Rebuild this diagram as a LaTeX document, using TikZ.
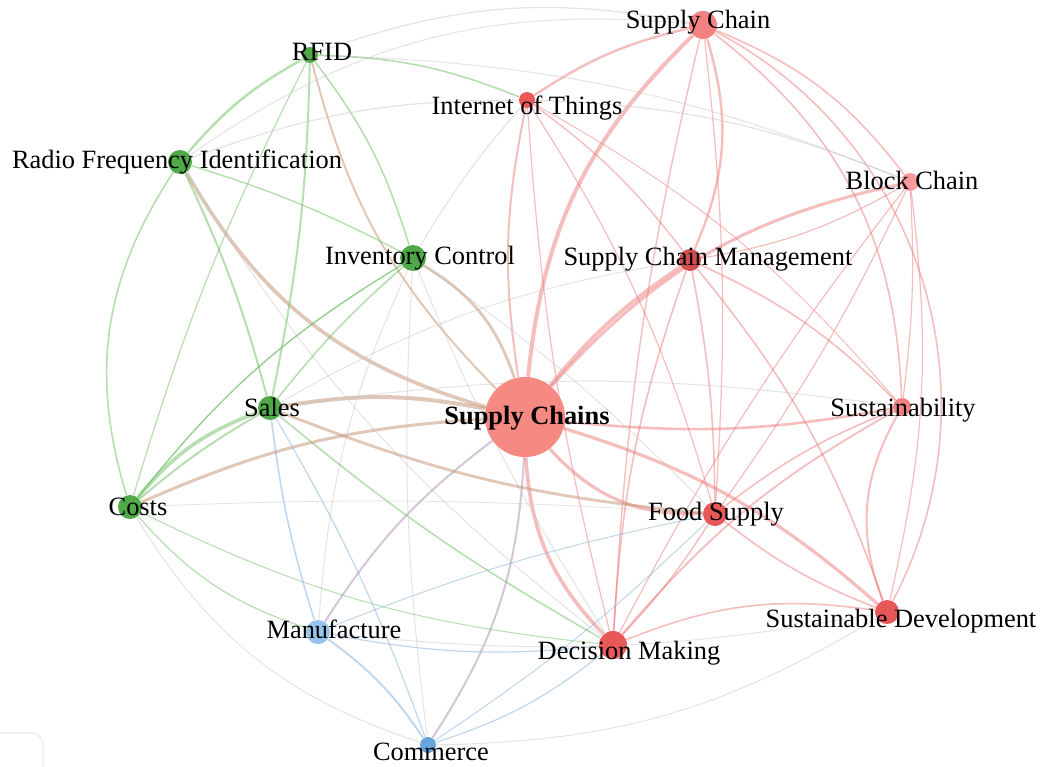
\documentclass[tikz,border=0pt]{standalone}
\usepackage{fontspec}
\setmainfont{Liberation Serif}
\usetikzlibrary{backgrounds}
\definecolor{redN}{RGB}{232,88,88}
\definecolor{redL}{RGB}{242,130,130}
\definecolor{redS}{RGB}{246,138,130}
\definecolor{redE}{RGB}{236,110,110}
\definecolor{greenN}{RGB}{80,168,72}
\definecolor{greenE}{RGB}{110,190,100}
\definecolor{blueN}{RGB}{150,195,235}
\definecolor{blueD}{RGB}{105,165,220}
\definecolor{blueE}{RGB}{130,175,220}
\definecolor{brownE}{RGB}{195,145,115}
\definecolor{purpE}{RGB}{170,140,180}
\definecolor{grayE}{RGB}{195,195,195}
\tikzset{
  nd/.style={circle, inner sep=0pt, minimum size=#1},
  lab/.style={font=\fontsize{13.2}{15}\selectfont, text=black, inner sep=0pt, text height=0.68em, text depth=0.2em, yshift=-2pt},
  er/.style={draw=redE, line width=#1, opacity=.45}, er/.default=0.5pt,
  eg/.style={draw=greenE, line width=#1, opacity=.5}, eg/.default=0.5pt,
  eb/.style={draw=blueE, line width=#1, opacity=.5}, eb/.default=0.5pt,
  ebr/.style={draw=brownE, line width=#1, opacity=.5}, ebr/.default=0.5pt,
  ep/.style={draw=purpE, line width=#1, opacity=.5}, ep/.default=0.5pt,
  egr/.style={draw=grayE, line width=#1, opacity=.45}, egr/.default=0.5pt,
}
\begin{document}
\begin{tikzpicture}[x=0.5pt,y=-0.5pt]
\useasboundingbox (0,0) rectangle (1043,766);
% node circles
\node[nd=40pt, fill=redS] (SCs) at (525,417) {};
\node[nd=14pt, fill=redL] (SC) at (703,25) {};
\node[nd=8pt, fill=redN] (IoT) at (527,100) {};
\node[nd=8pt, fill=greenN] (RFID) at (310,55) {};
\node[nd=12pt, fill=greenN] (RFI) at (180,162) {};
\node[nd=9pt, fill=redL!80!white] (BC) at (910,182) {};
\node[nd=13pt, fill=greenN] (IC) at (413,258) {};
\node[nd=11pt, fill=redN!90!black] (SCM) at (690,260) {};
\node[nd=12pt, fill=greenN] (Sales) at (270,408) {};
\node[nd=9pt, fill=redL] (Sust) at (902,407) {};
\node[nd=12pt, fill=greenN] (Costs) at (130,507) {};
\node[nd=12pt, fill=redN] (FS) at (715,514) {};
\node[nd=12pt, fill=redN] (SD) at (887,612) {};
\node[nd=12pt, fill=blueN] (Man) at (318,632) {};
\node[nd=14pt, fill=redN] (DM) at (613,645) {};
\node[nd=8pt, fill=blueD] (Com) at (428,745) {};
\begin{scope}[on background layer]
\fill[white] (0,0) rectangle (1043,766);
% faint frame fragment
\draw[gray!12, line width=1pt, rounded corners=6pt] (0,733) -- (43,733) -- (43,770);
% heavy edges of Supply Chains
\draw[er=2pt] (SCs) to[bend left=20] (SC);
\draw[er=1.8pt] (SCs) to[bend left=8] (SCM);
\draw[er=1.6pt] (SCs) to[bend right=25] (FS);
\draw[er=1.8pt] (SCs) to[bend right=20] (DM);
\draw[er=1.6pt] (SCs) to[bend left=12] (SD);
\draw[er=1.3pt] (SCs) to[bend right=8] (Sust);
\draw[er=1pt] (SCs) to[bend left=10] (IoT);
\draw[er=1.5pt] (SCs) to[bend left=18] (BC);
\draw[ebr=2pt] (Sales) to[bend left=10] (SCs);
\draw[ebr=1.8pt] (RFI) to[bend right=22] (SCs);
\draw[ebr=1.4pt] (IC) to[bend left=20] (SCs);
\draw[ebr=1.5pt] (Costs) to[bend left=10] (SCs);
\draw[ep=1pt] (Man) to[bend left=10] (SCs);
\draw[ep=1pt] (Com) to[bend right=15] (SCs);
\draw[ebr=1pt] (RFID) to[bend right=15] (SCs);
% red cluster
\draw[er=1.2pt] (SC) to[bend left=20] (SCM);
\draw[er=1.2pt] (SC) to[bend right=10] (IoT);
\draw[er=0.8pt] (SC) to[bend left=15] (BC);
\draw[er=0.8pt] (SC) to[bend left=25] (Sust);
\draw[er=0.8pt] (SC) to[bend left=45] (SD);
\draw[er=0.6pt] (SC) to[bend left=5] (FS);
\draw[er=0.7pt] (SC) to[bend right=5] (DM);
\draw[er=0.8pt] (SCM) to[bend left=5] (FS);
\draw[er=0.8pt] (SCM) to[bend right=8] (DM);
\draw[er=0.8pt] (SCM) to[bend left=10] (Sust);
\draw[er=0.8pt] (SCM) to[bend left=10] (SD);
\draw[er=0.7pt] (SCM) to[bend right=8] (IoT);
\draw[er=0.6pt] (SCM) to[bend right=10] (BC);
\draw[er=0.6pt] (BC) to[bend left=5] (Sust);
\draw[er=0.6pt] (BC) to[bend left=5] (FS);
\draw[er=0.6pt] (BC) to[bend left=10] (SD);
\draw[er=0.6pt] (BC) to[bend right=5] (DM);
\draw[egr=0.6pt] (BC) to[bend right=10] (IoT);
\draw[er=1pt] (Sust) to[bend right=25] (SD);
\draw[er=0.8pt] (Sust) to[bend right=8] (FS);
\draw[er=0.9pt] (Sust) to[bend right=10] (DM);
\draw[er=0.7pt] (FS) to[bend left=5] (DM);
\draw[er=0.8pt] (FS) to[bend right=8] (SD);
\draw[er=0.8pt] (DM) to[bend left=15] (SD);
\draw[er=0.6pt] (IoT) to[bend left=8] (FS);
\draw[er=0.6pt] (IoT) to[bend right=5] (DM);
\draw[er=0.5pt] (IoT) to[bend left=10] (Sust);
% green cluster
\draw[eg=1.2pt] (RFID) to[bend right=10] (RFI);
\draw[eg=1pt] (RFID) to[bend left=5] (Sales);
\draw[eg=0.8pt] (RFID) to[bend left=10] (IC);
\draw[eg=0.8pt] (RFID) to[bend left=10] (IoT);
\draw[eg=0.6pt] (RFID) to[bend right=5] (Costs);
\draw[egr=0.6pt] (RFID) to[bend left=15] (SC);
\draw[egr=0.5pt] (RFID) to[bend left=10] (BC);
\draw[eg=1pt] (RFI) to[bend left=5] (Sales);
\draw[eg=0.8pt] (RFI) to[bend right=25] (Costs);
\draw[eg=0.7pt] (RFI) to[bend left=5] (IC);
\draw[egr=0.6pt] (RFI) to[bend left=10] (IoT);
\draw[egr=0.5pt] (RFI) to[bend left=20] (SC);
\draw[egr=0.5pt] (RFI) to[bend right=10] (DM);
\draw[eg=0.8pt] (IC) to[bend right=5] (Sales);
\draw[eg=0.6pt] (IC) to[bend right=10] (Costs);
\draw[egr=0.6pt] (IC) to[bend left=5] (IoT);
\draw[egr=0.5pt] (IC) to[bend left=5] (FS);
\draw[egr=0.5pt] (IC) to[bend right=5] (DM);
\draw[egr=0.5pt] (IC) to[bend right=10] (Man);
\draw[eg=1.8pt] (Costs) to[bend left=15] (Sales);
\draw[eg=1pt] (Costs) to[bend left=5] (Sales);
\draw[eg=0.6pt] (Costs) to[bend right=15] (Man);
\draw[egr=0.5pt] (Costs) to[bend right=20] (Com);
\draw[eg=0.5pt] (Costs) to[bend right=10] (DM);
\draw[egr=0.4pt] (Costs) to[bend left=3] (FS);
\draw[eg=0.6pt] (Costs) to[bend left=10] (IC);
\draw[eb=0.8pt] (Sales) to[bend right=5] (Man);
\draw[eg=0.8pt] (Sales) to[bend right=5] (DM);
\draw[ebr=1.4pt] (Sales) to[bend right=8] (FS);
\draw[eb=0.6pt] (Sales) to[bend left=5] (Com);
\draw[egr=0.5pt] (Sales) to[bend left=8] (Sust);
\draw[egr=0.5pt] (Sales) to[bend left=10] (SCM);
% blue cluster
\draw[eb=1pt] (Man) to[bend left=10] (Com);
\draw[eb=0.6pt] (Man) to[bend right=8] (DM);
\draw[eb=0.5pt] (Man) to[bend left=5] (FS);
\draw[egr=0.5pt] (Man) to[bend right=8] (SD);
\draw[eb=0.6pt] (Com) to[bend right=10] (DM);
\draw[egr=0.5pt] (Com) to[bend right=15] (SD);
\draw[eb=0.5pt] (Com) to[bend right=5] (FS);
\draw[egr=0.5pt] (Com) to[bend left=5] (IC);
\end{scope}
% labels
\node[lab] (lSC) at (698,20) {Supply Chain};
\node[lab] (lIoT) at (527,106) {Internet of Things};
\node[lab] (lRFID) at (322,52) {RFID};
\node[lab] (lRFI) at (177,160) {Radio Frequency Identification};
\node[lab] (lBC) at (912,181) {Block Chain};
\node[lab] (lIC) at (420,256) {Inventory Control};
\node[lab] (lSCM) at (708,257) {Supply Chain Management};
\node[lab, font=\fontsize{13.2}{15}\selectfont\bfseries] (lSCs) at (527,416) {Supply Chains};
\node[lab] (lSales) at (272,408) {Sales};
\node[lab] (lSust) at (903,408) {Sustainability};
\node[lab] (lCosts) at (138,507) {Costs};
\node[lab] (lFS) at (716,512) {Food Supply};
\node[lab] (lSD) at (901,619) {Sustainable Development};
\node[lab] (lMan) at (334,630) {Manufacture};
\node[lab] (lDM) at (629,651) {Decision Making};
\node[lab] (lCom) at (431,752) {Commerce};
\end{tikzpicture}
\end{document}
